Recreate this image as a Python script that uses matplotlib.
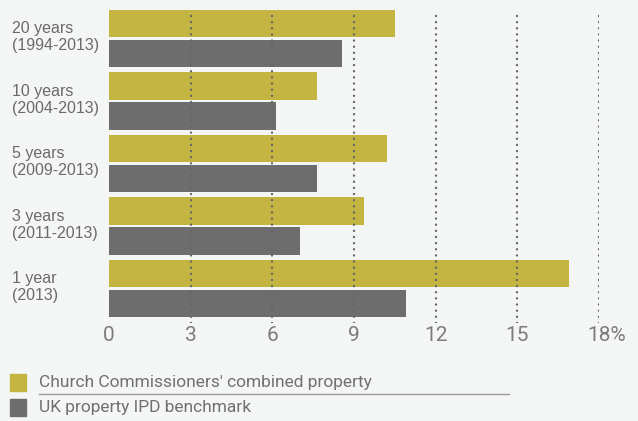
import matplotlib
matplotlib.use('Agg')
import matplotlib.pyplot as plt
import matplotlib.transforms as mtransforms
from matplotlib.patches import Rectangle
from matplotlib.lines import Line2D
import numpy as np

periods = ['20 years', '10 years', '5 years', '3 years', '1 year']
ranges = ['(1994-2013)', '(2004-2013)', '(2009-2013)', '(2011-2013)', '(2013)']
church = [10.5, 7.65, 10.2, 9.35, 16.9]
ipd = [8.55, 6.15, 7.65, 7.0, 10.9]
ticks = [0, 3, 6, 9, 12, 15, 18]
tick_labels = ['0', '3', '6', '9', '12', '15', '18%']
series_names = ["Church Commissioners' combined property", 'UK property IPD benchmark']

bg = '#f4f6f5'
gold = '#c4b542'
grey = '#6d6d6d'
W, H = 638, 421

fig = plt.figure(figsize=(W / 100, H / 100), dpi=100, facecolor=bg)
ax = fig.add_axes([109 / W, 1 - 323 / H, (599 - 109) / W, (323 - 10) / H])
ax.set_facecolor(bg)

y = np.arange(len(periods))
ax.barh(y - 0.24, church, height=0.435, color=gold, zorder=2)
ax.barh(y + 0.24, ipd, height=0.435, color=grey, zorder=2)

for t in ticks[1:]:
    ax.axvline(t, color='#666666', lw=1.7, linestyle=(0, (0.05, 2.55)),
               dash_capstyle='round', zorder=3)

ax.set_xlim(0, 18)
ax.set_ylim(4.55, -0.456)
ax.set_xticks(ticks)
ax.set_xticklabels(tick_labels, fontsize=15, color='#7c7c7c', family='Roboto')
ax.tick_params(axis='x', length=0, pad=2)
last = ax.get_xticklabels()[-1]
last.set_transform(last.get_transform() + mtransforms.ScaledTranslation(8 / 100, 0, fig.dpi_scale_trans))
ax.set_yticks([])
for s in ax.spines.values():
    s.set_visible(False)

trans = mtransforms.blended_transform_factory(fig.transFigure, ax.transData)
for i, (p, r) in enumerate(zip(periods, ranges)):
    ax.text(12 / W, i - 0.02, p + '\n' + r, transform=trans, ha='left', va='center',
            fontsize=11.5, color='#6a6a6a', family='Liberation Sans', linespacing=1.15)

# legend
for k, (name, col) in enumerate(zip(series_names, [gold, grey])):
    top = 374 + 25 * k
    fig.add_artist(Rectangle((10 / W, 1 - (top + 17) / H), 16 / W, 17 / H,
                             transform=fig.transFigure, color=col))
    fig.text(39 / W, 1 - (top + 8.5) / H, name, ha='left', va='center',
             fontsize=12.5, color='#707070', family='Roboto')

fig.add_artist(Line2D([39 / W, 509 / W], [1 - 394 / H, 1 - 394 / H],
                      transform=fig.transFigure, color='#9a9a9a', lw=1))

fig.savefig('out.png', dpi=100, facecolor=bg)
